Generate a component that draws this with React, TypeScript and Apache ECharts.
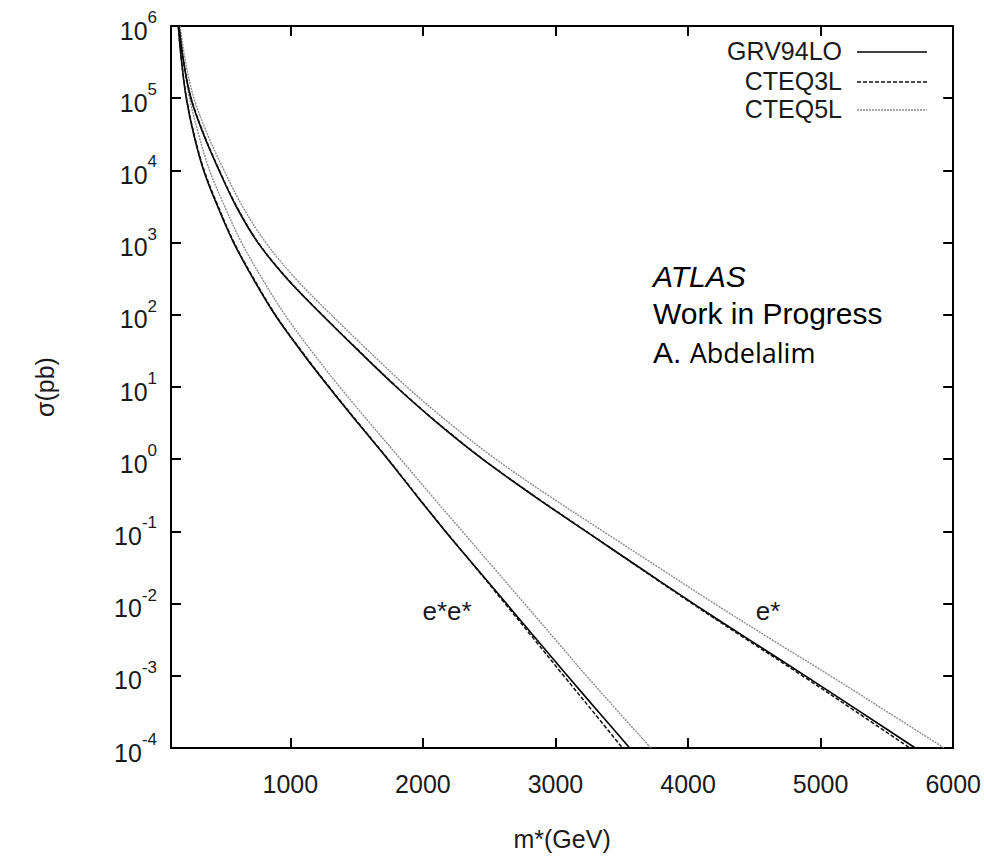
import React, { useEffect, useRef } from 'react';
import * as echarts from 'echarts';

const FONT = "'Liberation Sans', Arial, Helvetica, sans-serif";
const TXT = '#1a1a1a';

// log10(sigma / pb) levels at which the curves' masses (GeV) were read
const sigmaExponents = [6, 5.5, 5, 4.5, 4, 3.5, 3, 2.5, 2, 1.5, 1, 0.5, 0, -0.5, -1, -1.5, -2, -2.5, -3, -3.5, -4];

// e*e* (pair production) masses at each level
const pairGRV94LO = [155, 180, 215, 271, 346, 452, 572, 720, 884, 1080, 1290, 1510, 1735, 1950, 2170, 2400, 2630, 2860, 3090, 3325, 3560];
const pairCTEQ3L = [155, 181, 217, 274, 350, 456, 576, 724, 888, 1084, 1294, 1514, 1738, 1953, 2172, 2397, 2620, 2842, 3062, 3285, 3505];
const pairCTEQ5L = [165, 197, 240, 308, 391, 505, 632, 788, 959, 1159, 1373, 1600, 1833, 2063, 2298, 2532, 2766, 3000, 3233, 3475, 3720];

// e* (single production) masses at each level
const singleGRV94LO = [160, 195, 250, 345, 462, 592, 755, 975, 1238, 1515, 1800, 2110, 2450, 2830, 3230, 3634, 4041, 4460, 4885, 5300, 5714];
const singleCTEQ3L = [160, 196, 252, 348, 465, 595, 758, 978, 1241, 1518, 1803, 2113, 2453, 2833, 3233, 3629, 4031, 4445, 4863, 5270, 5674];
const singleCTEQ5L = [168, 210, 273, 375, 500, 640, 815, 1040, 1308, 1590, 1880, 2200, 2550, 2945, 3360, 3779, 4199, 4632, 5073, 5503, 5932];

const massTicks = [1000, 2000, 3000, 4000, 5000, 6000];
const pdfNames = ['GRV94LO', 'CTEQ3L', 'CTEQ5L'];
const processLabels = ['e*e*', 'e*'];
const noteLines = ['ATLAS', 'Work in Progress', 'A.', 'Abdelalim'];

const pdfStyles: Record<string, { color: string; type: any; width: number }> = {
  GRV94LO: { color: '#000000', type: 'solid', width: 1.6 },
  CTEQ3L: { color: '#111111', type: [4, 2], width: 1.5 },
  CTEQ5L: { color: '#8c8c8c', type: [2, 1], width: 1.4 },
};

function toData(masses: number[]) {
  return masses.map((m, i) => [m, sigmaExponents[i]]);
}

export default function App() {
  const ref = useRef<HTMLDivElement>(null);

  useEffect(() => {
    if (!ref.current) return;
    const chart = echarts.init(ref.current, undefined, { renderer: 'svg' });

    const curves: { name: string; masses: number[]; proc: string }[] = [
      { name: 'CTEQ5L', masses: pairCTEQ5L, proc: processLabels[0] },
      { name: 'CTEQ5L', masses: singleCTEQ5L, proc: processLabels[1] },
      { name: 'GRV94LO', masses: pairGRV94LO, proc: processLabels[0] },
      { name: 'GRV94LO', masses: singleGRV94LO, proc: processLabels[1] },
      { name: 'CTEQ3L', masses: pairCTEQ3L, proc: processLabels[0] },
      { name: 'CTEQ3L', masses: singleCTEQ3L, proc: processLabels[1] },
    ];

    const series = curves.map((c) => ({
      type: 'line',
      name: c.name,
      data: toData(c.masses),
      showSymbol: false,
      smooth: 0.35,
      clip: true,
      lineStyle: { ...pdfStyles[c.name] },
      emphasis: { disabled: true },
      z: c.name === 'CTEQ5L' ? 2 : 3,
    }));

    const axisLine = { show: true, onZero: false, lineStyle: { color: '#000', width: 2 } };
    const tickStyle = { color: '#000', width: 2 };

    const legendY = [51, 81, 109];
    const legendGraphics: any[] = [];
    pdfNames.forEach((n, i) => {
      legendGraphics.push({
        type: 'text',
        x: 842,
        y: legendY[i],
        style: { text: n, font: `25px ${FONT}`, fill: TXT, textAlign: 'right', textVerticalAlign: 'middle' },
      });
      legendGraphics.push({
        type: 'line',
        shape: { x1: 857, y1: legendY[i] + 1, x2: 927, y2: legendY[i] + 1 },
        style: {
          stroke: pdfStyles[n].color,
          lineWidth: pdfStyles[n].width,
          lineDash: pdfStyles[n].type === 'solid' ? null : pdfStyles[n].type,
        },
      });
    });

    const option: any = {
      animation: false,
      backgroundColor: '#ffffff',
      grid: { left: 171, right: 30, top: 26, bottom: 96 },
      xAxis: [
        {
          type: 'value',
          position: 'bottom',
          min: 100,
          max: 6000,
          axisLine,
          axisTick: { show: true, inside: true, length: 10, lineStyle: tickStyle, customValues: massTicks },
          axisLabel: {
            customValues: massTicks,
            formatter: (v: number) => String(Math.round(v)),
            fontSize: 25,
            fontFamily: FONT,
            color: TXT,
            margin: 23,
          },
          splitLine: { show: false },
          name: 'm*(GeV)',
          nameLocation: 'middle',
          nameGap: 78,
          nameTextStyle: { fontSize: 25, fontFamily: FONT, color: TXT },
        },
        {
          type: 'value',
          position: 'top',
          min: 100,
          max: 6000,
          axisLine,
          axisTick: { show: true, inside: true, length: 10, lineStyle: tickStyle, customValues: massTicks },
          axisLabel: { show: false },
          splitLine: { show: false },
        },
      ],
      yAxis: [
        {
          type: 'value',
          position: 'left',
          min: -4,
          max: 6,
          interval: 1,
          axisLine,
          axisTick: { show: true, inside: true, length: 10, lineStyle: tickStyle },
          axisLabel: {
            margin: 14,
            formatter: (v: number) => `{b|10}{s|${Math.round(v)}}`,
            rich: {
              b: { fontSize: 25, fontFamily: FONT, color: TXT, lineHeight: 34, verticalAlign: 'bottom' },
              s: { fontSize: 17, fontFamily: FONT, color: TXT, lineHeight: 17, verticalAlign: 'top' },
            },
          },
          splitLine: { show: false },
          name: 'σ(pb)',
          nameLocation: 'middle',
          nameGap: 114,
          nameRotate: 90,
          nameTextStyle: { fontSize: 25, fontFamily: FONT, color: TXT },
        },
        {
          type: 'value',
          position: 'right',
          min: -4,
          max: 6,
          interval: 1,
          axisLine,
          axisTick: { show: true, inside: true, length: 10, lineStyle: tickStyle },
          axisLabel: { show: false },
          splitLine: { show: false },
        },
      ],
      series: series.map((s) => ({ ...s, xAxisIndex: 0, yAxisIndex: 0 })),
      graphic: [
        ...legendGraphics,
        {
          type: 'text',
          x: 447,
          y: 611,
          style: { text: processLabels[0], font: `26px ${FONT}`, fill: TXT, textAlign: 'center', textVerticalAlign: 'middle' },
        },
        {
          type: 'text',
          x: 768,
          y: 611,
          style: { text: processLabels[1], font: `26px ${FONT}`, fill: TXT, textAlign: 'center', textVerticalAlign: 'middle' },
        },
        {
          type: 'text',
          x: 653,
          y: 276,
          style: { text: noteLines[0], font: `italic 30px ${FONT}`, fill: '#000', textAlign: 'left', textVerticalAlign: 'middle' },
        },
        {
          type: 'text',
          x: 653,
          y: 313,
          style: { text: noteLines[1], font: `30px ${FONT}`, fill: '#000', textAlign: 'left', textVerticalAlign: 'middle' },
        },
        {
          type: 'text',
          x: 653,
          y: 352,
          style: {
            text: `{a|${noteLines[2]}} {b|${noteLines[3]}}`,
            textAlign: 'left',
            textVerticalAlign: 'middle',
            fill: '#000',
            font: `30px ${FONT}`,
            rich: {
              a: { fontSize: 30, fontFamily: FONT, fill: '#000' },
              b: { fontSize: 27, fontFamily: "'Open Sans', 'Noto Sans', sans-serif", fill: '#000' },
            },
          },
        },
      ],
    };

    chart.setOption(option);
    return () => chart.dispose();
  }, []);

  return <div ref={ref} style={{ width: 984, height: 856, position: 'absolute', left: 0, top: 0, background: '#fff' }} />;
}
